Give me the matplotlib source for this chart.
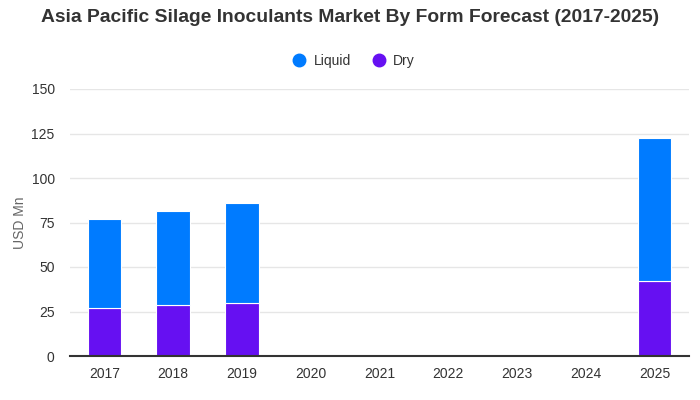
import matplotlib.pyplot as plt
import numpy as np

plt.rcParams['font.family'] = ['Liberation Sans', 'DejaVu Sans']

# data
years = ["2017", "2018", "2019", "2020", "2021", "2022", "2023", "2024", "2025"]
dry = [26.8, 28.5, 29.6, 0, 0, 0, 0, 0, 42.0]
liquid = [50.2, 53.0, 56.4, 0, 0, 0, 0, 0, 80.6]

c_liquid = "#007bff"
c_dry = "#6610f2"

fig = plt.figure(figsize=(7, 4), dpi=100)
ax = fig.add_axes([0.1, 0.11, 0.884, 0.6675])

x = np.arange(len(years))
w = 0.485
ax.bar(x, dry, w, color=c_dry, edgecolor="white", linewidth=0.8, zorder=3, label="Dry")
ax.bar(x, liquid, w, bottom=dry, color=c_liquid, edgecolor="white", linewidth=0.8,
       zorder=3, label="Liquid")

ax.set_xlim(-0.5, len(years) - 0.5)
ax.set_ylim(0, 150)
ax.set_yticks([0, 25, 50, 75, 100, 125, 150])
ax.set_xticks(x)
ax.set_xticklabels(years)
ax.tick_params(axis="both", labelsize=10, colors="#333333", length=0, pad=8)
ax.tick_params(axis="y", pad=11)
ax.grid(axis="y", color="#e6e6e6", linewidth=1, zorder=0)
for s in ["top", "right", "left"]:
    ax.spines[s].set_visible(False)
ax.spines["bottom"].set_color("#333333")
ax.spines["bottom"].set_linewidth(1.5)
ax.spines["bottom"].set_zorder(4)
ax.set_ylabel("USD Mn", fontsize=10, color="#666666")
ax.yaxis.set_label_coords(-0.07, 0.5)

fig.text(0.5, 0.955, "Asia Pacific Silage Inoculants Market By Form Forecast (2017-2025)",
         ha="center", va="center", fontsize=13.9, fontweight="bold", color="#333333")

handles = [plt.Line2D([], [], marker="o", linestyle="", color=c_liquid, markersize=9),
           plt.Line2D([], [], marker="o", linestyle="", color=c_dry, markersize=9)]
fig.legend(handles, ["Liquid", "Dry"], loc="center", bbox_to_anchor=(0.5, 0.848),
           ncol=2, frameon=False, fontsize=10, handletextpad=0.05, columnspacing=1.0,
           labelcolor="#333333")

fig.savefig("out.png")
